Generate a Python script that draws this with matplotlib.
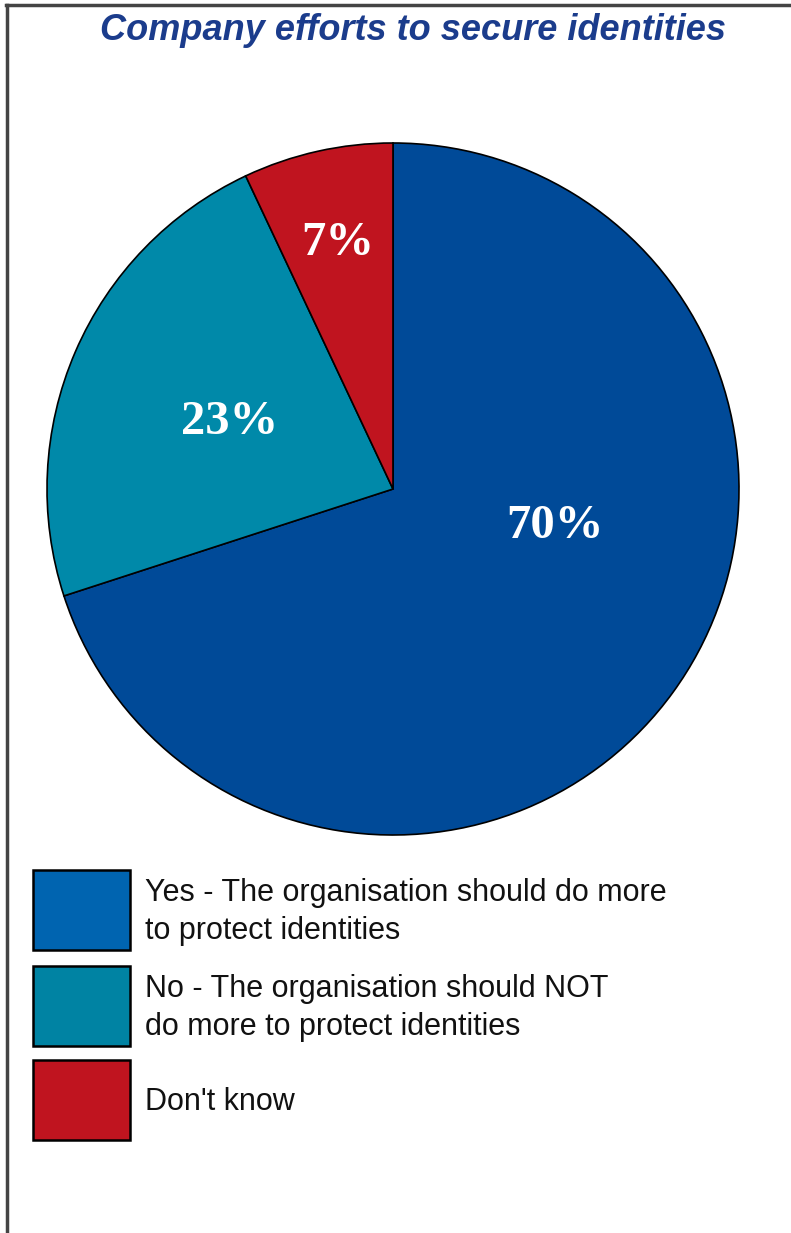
import matplotlib
matplotlib.use('Agg')
import matplotlib.pyplot as plt
from matplotlib.patches import Rectangle
from matplotlib.lines import Line2D

# data
categories = ['Yes - The organisation should do more\nto protect identities',
              'No - The organisation should NOT\ndo more to protect identities',
              "Don't know"]
shares = [70, 23, 7]
pie_colors = ['#004a98', '#0089a9', '#c0141f']
legend_colors = ['#0064b0', '#0083a3', '#c0141f']

W, H = 791, 1233
fig = plt.figure(figsize=(W / 100, H / 100), dpi=100)
fig.patch.set_facecolor('white')

# frame lines (top and left only)
fig.add_artist(Line2D([6 / W, 1], [1 - 5 / H, 1 - 5 / H], color='#444444', lw=2.5))
fig.add_artist(Line2D([7 / W, 7 / W], [0, 1 - 5 / H], color='#444444', lw=2.5))

fig.text(413 / W, 1 - 31 / H, 'Company efforts to secure identities',
         ha='center', va='center', fontsize=26, fontweight='bold', fontstyle='italic',
         color='#1b3c8c', family=['Liberation Sans', 'DejaVu Sans'])

cx, cy, r = 393, 489, 346
ax = fig.add_axes([(cx - r) / W, 1 - (cy + r) / H, 2 * r / W, 2 * r / H])
wedges, _ = ax.pie(shares, colors=pie_colors, startangle=90, counterclock=False,
                   wedgeprops=dict(edgecolor='black', linewidth=1.2))
ax.set_xlim(-1, 1)
ax.set_ylim(-1, 1)
ax.set_aspect('equal')
ax.axis('off')

label_pos = [(0.468, -0.098), (-0.471, 0.205), (-0.159, 0.72)]
for v, (x, y) in zip(shares, label_pos):
    ax.text(x, y - 0.01, f'{v}%', ha='center', va='center', color='white',
            fontsize=35, fontweight='bold', family=['Liberation Serif', 'DejaVu Serif'])

# legend
box_tops = [870, 966, 1060]
for lab, col, top in zip(categories, legend_colors, box_tops):
    fig.add_artist(Rectangle((33 / W, 1 - (top + 80) / H), 97 / W, 80 / H,
                             facecolor=col, edgecolor='black', linewidth=1.8))
    fig.text(145 / W, 1 - (top + 42) / H, lab, ha='left', va='center', fontsize=22,
             color='#111111', linespacing=1.35,
             family=['Liberation Sans', 'DejaVu Sans'])

fig.savefig('out.png', dpi=100)
